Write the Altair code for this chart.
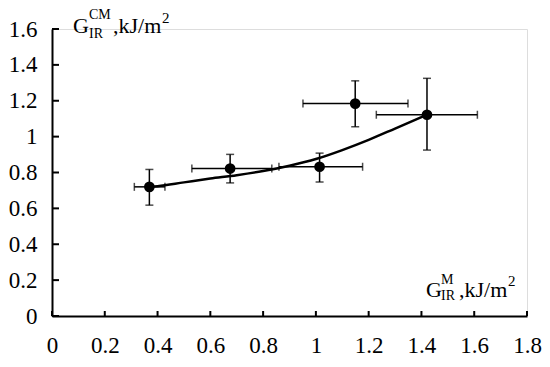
import altair as alt
import pandas as pd

# ---- data ----
px = [0.369, 0.675, 1.014, 1.149, 1.421]
py = [0.720, 0.822, 0.832, 1.184, 1.122]
x_lo = [0.312, 0.530, 0.860, 0.951, 1.229]
x_hi = [0.428, 0.833, 1.177, 1.349, 1.612]
y_lo = [0.618, 0.742, 0.747, 1.055, 0.925]
y_hi = [0.817, 0.901, 0.908, 1.311, 1.325]

curve_x = [0.369, 0.4, 0.5, 0.6, 0.7, 0.8, 0.9, 1.0, 1.1, 1.2, 1.3, 1.421]
curve_y = [0.720, 0.724, 0.745, 0.766, 0.785, 0.808, 0.838, 0.875, 0.925, 0.982, 1.045, 1.122]

x_ticks = [0, 0.2, 0.4, 0.6, 0.8, 1.0, 1.2, 1.4, 1.6, 1.8]
y_ticks = [0, 0.2, 0.4, 0.6, 0.8, 1.0, 1.2, 1.4, 1.6]

FONT = "Liberation Serif"
W, H = 475, 287

pts = pd.DataFrame({"x": px, "y": py, "xlo": x_lo, "xhi": x_hi, "ylo": y_lo, "yhi": y_hi})
curve = pd.DataFrame({"x": curve_x, "y": curve_y})
xt = pd.DataFrame({"t": x_ticks})
yt = pd.DataFrame({"t": y_ticks})

xs = alt.Scale(domain=[0, 1.8], nice=False)
ys = alt.Scale(domain=[0, 1.6], nice=False)

x_axis = alt.Axis(values=x_ticks, labelExpr="format(datum.value, '~g')", title=None,
                  labelPadding=18)
y_axis = alt.Axis(values=y_ticks, labelExpr="format(datum.value, '~g')", title=None,
                  labelPadding=15)


def X(f):
    return alt.X(f, type="quantitative", scale=xs, axis=x_axis)


def Y(f):
    return alt.Y(f, type="quantitative", scale=ys, axis=y_axis)


base = alt.Chart(pts)

line = alt.Chart(curve).mark_line(color="black", strokeWidth=2.5, interpolate="monotone").encode(
    x=X("x"), y=Y("y"))

vbar = base.mark_rule(color="black", strokeWidth=1.5).encode(x=X("x"), y=Y("ylo"), y2="yhi:Q")
hbar = base.mark_rule(color="black", strokeWidth=1.5).encode(y=Y("y"), x=X("xlo"), x2="xhi:Q")

cap_lo = base.mark_tick(color="black", orient="horizontal", size=8, thickness=1.5).encode(
    x=X("x"), y=Y("ylo"))
cap_hi = base.mark_tick(color="black", orient="horizontal", size=8, thickness=1.5).encode(
    x=X("x"), y=Y("yhi"))
cap_l = base.mark_tick(color="black", orient="vertical", size=8, thickness=1.5).encode(
    x=X("xlo"), y=Y("y"))
cap_r = base.mark_tick(color="black", orient="vertical", size=8, thickness=1.5).encode(
    x=X("xhi"), y=Y("y"))

dots = base.mark_point(filled=True, color="black", opacity=1, size=115).encode(
    x=X("x"), y=Y("y"))

xtick = alt.Chart(xt).mark_rule(color="black", strokeWidth=2).encode(
    x=X("t"), y=alt.value(H), y2=alt.value(H - 5))
ytick = alt.Chart(yt).mark_rule(color="black", strokeWidth=2).encode(
    y=Y("t"), x=alt.value(0), x2=alt.value(7))


def txt(s, size, xv, yv, dx, dy):
    d = pd.DataFrame({"s": [s], "x": [xv], "y": [yv]})
    return alt.Chart(d).mark_text(font=FONT, fontSize=size, align="left", baseline="alphabetic",
                                  color="black", dx=dx, dy=dy).encode(
        x=X("x"), y=Y("y"), text="s:N")


# y-axis title anchored at (0, 1.6)
yt_parts = [
    txt("G", 22, 0, 1.6, 21, 4),
    txt("CM", 14, 0, 1.6, 37, -10),
    txt("IR", 14, 0, 1.6, 37, 9),
    txt(",kJ/m", 22, 0, 1.6, 61, 4),
    txt("2", 15, 0, 1.6, 110, -6),
]
# x-axis title anchored at (1.8, 0)
xt_parts = [
    txt("G", 22, 1.8, 0, -101, -19),
    txt("M", 14, 1.8, 0, -86, -32),
    txt("IR", 14, 1.8, 0, -86, -16),
    txt(",kJ/m", 22, 1.8, 0, -68, -19),
    txt("2", 15, 1.8, 0, -19, -30),
]

chart = alt.layer(line, vbar, hbar, cap_lo, cap_hi, cap_l, cap_r, dots, xtick, ytick,
                  *yt_parts, *xt_parts).properties(
    width=W, height=H,
    autosize=alt.AutoSizeParams(type="none"),
    padding={"left": 44, "top": 21, "right": 15, "bottom": 45},
).configure_view(stroke=None).configure(background="white").configure_axis(
    grid=False, ticks=False, labelFont=FONT, labelFontSize=23, labelColor="black",
    domainColor="black", domainWidth=2, labelFlush=False, labelOverlap=False,
).configure_text(font=FONT)

chart.save("out.html", embed_options={"renderer": "svg", "actions": False})
